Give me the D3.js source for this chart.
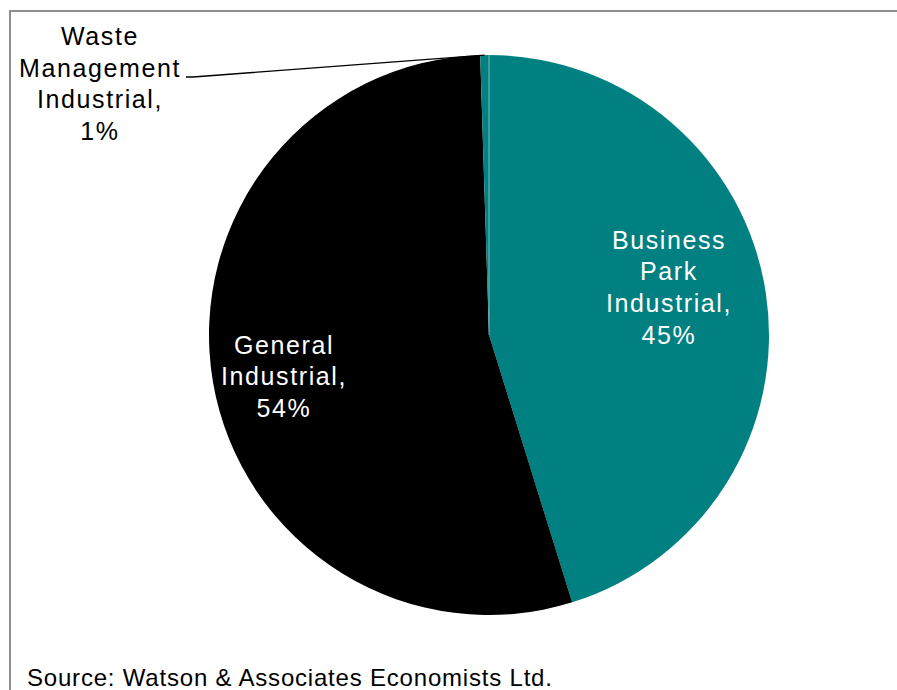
<!DOCTYPE html>
<html>
<head>
<meta charset="utf-8">
<script src="https://cdn.jsdelivr.net/npm/d3@7"></script>
<style>
  html, body { margin: 0; padding: 0; background: #fff; }
  svg { display: block; font-family: "Liberation Sans", Arial, sans-serif; }
</style>
</head>
<body>
<svg id="chart" width="897" height="690"></svg>
<script>
// Share of industrial land by type (percent)
const categories = ["Business Park Industrial", "General Industrial", "Waste Management Industrial"];
const labelLines = [["Business", "Park", "Industrial,"], ["General", "Industrial,"], ["Waste", "Management", "Industrial,"]];
const shares = [45.2, 54.3, 0.5];
const colors = ["#008080", "#000000", "#008080"];
const sourceNote = "Source: Watson & Associates Economists Ltd.";

const svg = d3.select("#chart");
const W = 897, H = 690;
const cx = 489, cy = 335, R = 280;

// frame (top and left edges visible)
svg.append("rect")
  .attr("x", 10).attr("y", 11)
  .attr("width", W + 20).attr("height", H + 20)
  .attr("fill", "none").attr("stroke", "#8f8f8f").attr("stroke-width", 2);

const pie = d3.pie().sort(null).value(d => d)(shares);
const arc = d3.arc().innerRadius(0).outerRadius(R);

const g = svg.append("g").attr("transform", `translate(${cx},${cy})`);

g.selectAll("path.slice")
  .data(pie)
  .join("path")
  .attr("class", "slice")
  .attr("d", arc)
  .attr("fill", (d, i) => colors[i]);

// thin light seam where the two teal slices meet
const seamA = pie[0].startAngle;
g.append("line")
  .attr("x1", 0).attr("y1", 0)
  .attr("x2", R * Math.sin(seamA)).attr("y2", -R * Math.cos(seamA))
  .attr("stroke", "#ffffff")
  .attr("stroke-opacity", 0.6)
  .attr("stroke-width", 0.8);

const pct = v => Math.round(v) + "%";
const lineH = 31.7;

function drawLabel(x, yFirstBaseline, lines, fill) {
  const t = svg.append("text")
    .attr("text-anchor", "middle")
    .attr("font-size", 25)
    .attr("letter-spacing", "1.6px")
    .attr("fill", fill);
  lines.forEach((s, k) => {
    t.append("tspan")
      .attr("x", x)
      .attr("y", yFirstBaseline + k * lineH)
      .text(s);
  });
}

// Business Park — inside the slice
drawLabel(669, 248.5, [...labelLines[0], pct(shares[0])], "#ffffff");
// General — inside the slice
drawLabel(284, 353.5, [...labelLines[1], pct(shares[1])], "#ffffff");
// Waste Management — outside with leader line
drawLabel(100, 45, [...labelLines[2], pct(shares[2])], "#000000");

// leader line from the label to the outer edge of the small slice
const wasteArc = pie[2];
const mid = (wasteArc.startAngle + wasteArc.endAngle) / 2;
const edge = [cx + R * Math.sin(mid), cy - R * Math.cos(mid)];
svg.append("path")
  .attr("d", d3.line()([[186, 77], [193, 77], edge]))
  .attr("fill", "none")
  .attr("stroke", "#000")
  .attr("stroke-width", 1.3);

// source note
svg.append("text")
  .attr("x", 27).attr("y", 686)
  .attr("font-size", 24)
  .attr("letter-spacing", "0.8px")
  .attr("fill", "#000")
  .text(sourceNote);
</script>
</body>
</html>
